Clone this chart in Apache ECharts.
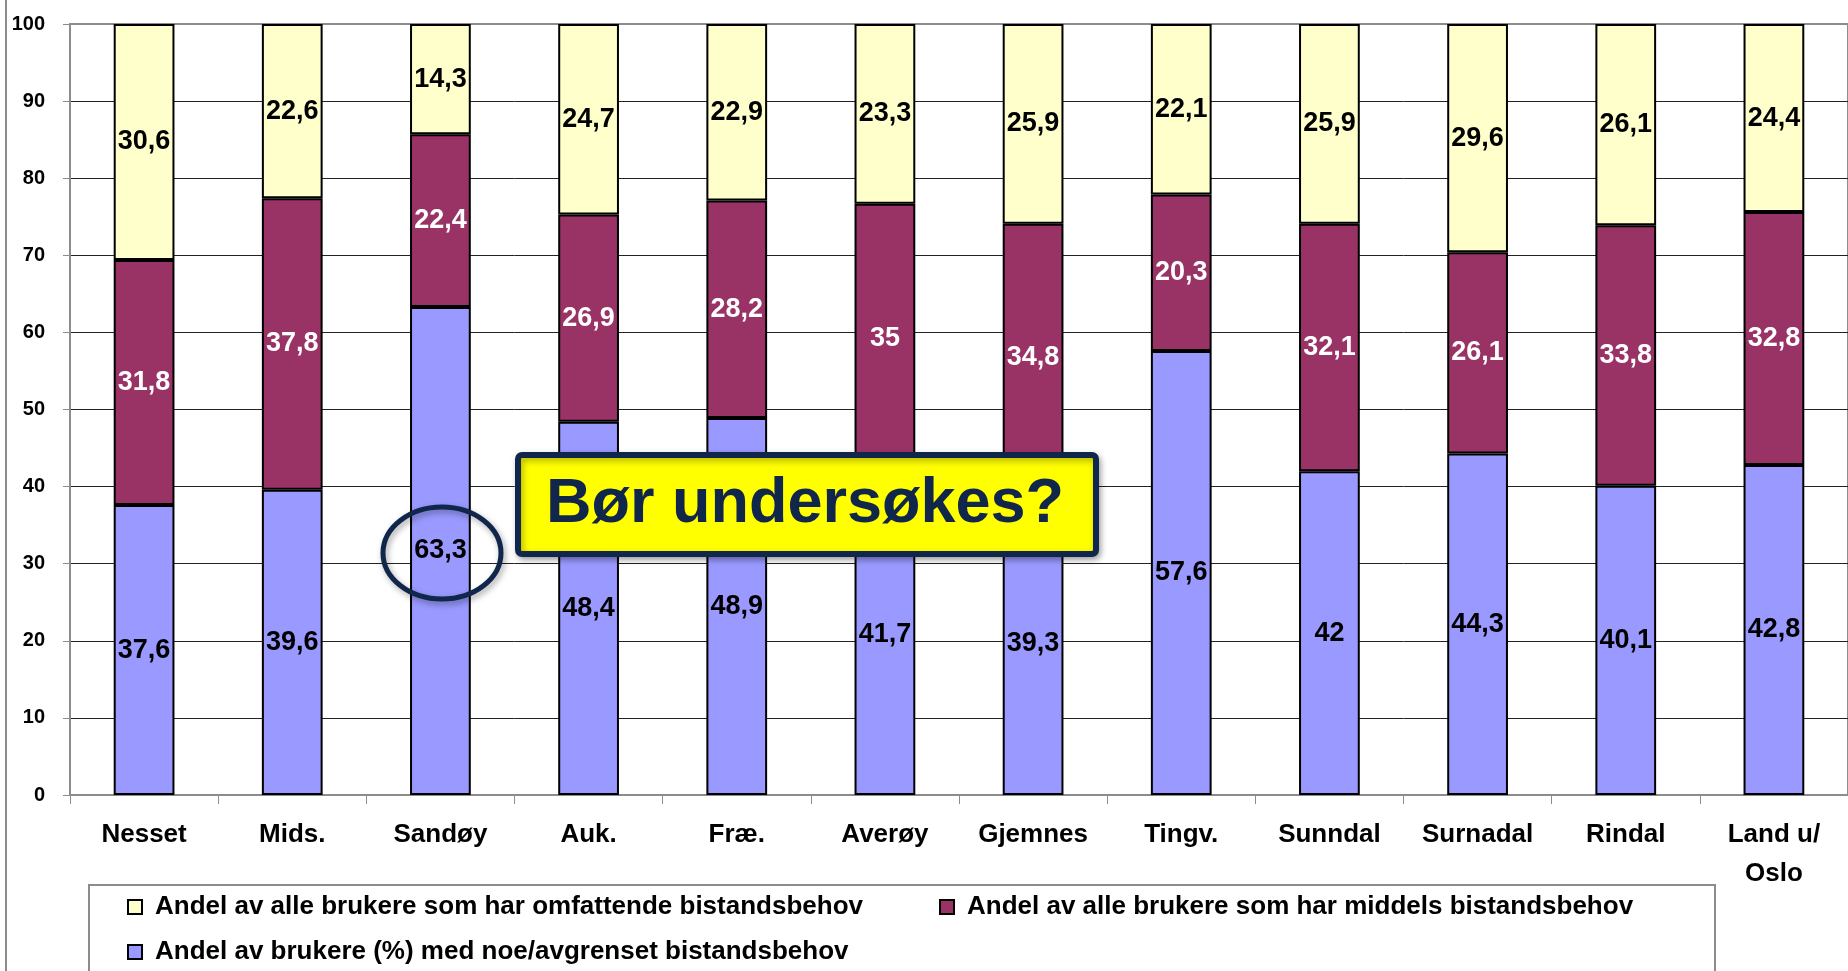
<!DOCTYPE html>
<html>
<head>
<meta charset="utf-8">
<script src="https://cdn.jsdelivr.net/npm/echarts@6/dist/echarts.min.js"></script>
<style>
  html, body { margin: 0; padding: 0; background: #fff; }
  #chart { width: 1848px; height: 971px; }
</style>
</head>
<body>
<div id="chart"></div>
<script>
// kommuner
const categories = ['Nesset', 'Mids.', 'Sandøy', 'Auk.', 'Fræ.', 'Averøy', 'Gjemnes', 'Tingv.', 'Sunndal', 'Surnadal', 'Rindal', 'Land u/\nOslo'];
// andel (%) per gruppe
const noe = [37.6, 39.6, 63.3, 48.4, 48.9, 41.7, 39.3, 57.6, 42, 44.3, 40.1, 42.8];
const middels = [31.8, 37.8, 22.4, 26.9, 28.2, 35, 34.8, 20.3, 32.1, 26.1, 33.8, 32.8];
const omfattende = [30.6, 22.6, 14.3, 24.7, 22.9, 23.3, 25.9, 22.1, 25.9, 29.6, 26.1, 24.4];

const nameNoe = 'Andel av brukere (%) med noe/avgrenset bistandsbehov';
const nameMiddels = 'Andel av alle brukere som har middels bistandsbehov';
const nameOmf = 'Andel av alle brukere som har omfattende bistandsbehov';

const FONT = '"Liberation Sans Narrow", "Arial Narrow", "Liberation Sans", Arial, sans-serif';
const navy = '#10264A';

const chart = echarts.init(document.getElementById('chart'));

function barLabel(color) {
  return {
    show: true,
    position: 'inside',
    color: color,
    fontFamily: FONT,
    fontWeight: 'bold',
    fontSize: 27,
    formatter: (p) => String(p.value).replace('.', ',')
  };
}

function legendItem(name, left, top) {
  return {
    data: [name],
    left: left,
    top: top,
    padding: 0,
    icon: 'rect',
    itemWidth: 14,
    itemHeight: 14,
    selectedMode: false,
    textStyle: {
      fontFamily: FONT,
      fontWeight: 'bold',
      fontSize: 26,
      color: '#000',
      padding: [0, 0, 0, 8]
    }
  };
}

const option = {
  animation: false,
  backgroundColor: '#fff',
  grid: {
    left: 70,
    top: 24,
    width: 1789,
    height: 771,
    show: true,
    borderColor: '#8c8c8c',
    borderWidth: 2
  },
  legend: [
    legendItem(nameOmf, 127, 894),
    legendItem(nameMiddels, 939, 894),
    legendItem(nameNoe, 127, 939)
  ],
  xAxis: {
    type: 'category',
    data: categories,
    axisLine: { lineStyle: { color: '#8c8c8c', width: 2 } },
    axisTick: { show: true, length: 9, lineStyle: { color: '#8c8c8c', width: 1 } },
    axisLabel: {
      margin: 20,
      color: '#000',
      fontFamily: FONT,
      fontWeight: 'bold',
      fontSize: 26,
      lineHeight: 39,
      interval: 0
    }
  },
  yAxis: {
    type: 'value',
    min: 0,
    max: 100,
    interval: 10,
    axisLine: { show: true, lineStyle: { color: '#8c8c8c', width: 2 } },
    axisTick: { show: true, length: 7, lineStyle: { color: '#8c8c8c' } },
    axisLabel: {
      margin: 25,
      color: '#000',
      fontFamily: FONT,
      fontWeight: 'bold',
      fontSize: 20
    },
    splitLine: {
      lineStyle: {
        color: ['#222', '#222', '#222', '#222', '#222', '#222', '#222', '#222', '#222', '#222', '#8c8c8c'],
        width: 1
      }
    }
  },
  series: [
    {
      name: nameNoe,
      type: 'bar',
      stack: 'tot',
      barWidth: '41%',
      data: noe,
      itemStyle: { color: '#9999FF', borderColor: '#000', borderWidth: 2 },
      label: barLabel('#000')
    },
    {
      name: nameMiddels,
      type: 'bar',
      stack: 'tot',
      data: middels,
      itemStyle: { color: '#993366', borderColor: '#000', borderWidth: 2 },
      label: barLabel('#fff')
    },
    {
      name: nameOmf,
      type: 'bar',
      stack: 'tot',
      data: omfattende,
      itemStyle: { color: '#FFFFCC', borderColor: '#000', borderWidth: 2 },
      label: barLabel('#000')
    }
  ],
  graphic: [
    // venstre ramme
    {
      type: 'line',
      z: 100,
      shape: { x1: 6, y1: 0, x2: 6, y2: 971 },
      style: { stroke: '#8c8c8c', lineWidth: 2 }
    },
    // ramme rundt forklaring
    {
      type: 'rect',
      z: 1,
      shape: { x: 89, y: 885, width: 1626, height: 120 },
      style: { fill: 'none', stroke: '#8c8c8c', lineWidth: 2 }
    },
    // ring rundt Sandøy
    {
      type: 'ellipse',
      z: 100,
      shape: { cx: 442, cy: 553, rx: 59, ry: 46 },
      style: {
        fill: 'none', stroke: navy, lineWidth: 5,
        shadowBlur: 6, shadowColor: 'rgba(0,0,0,0.35)', shadowOffsetX: 2, shadowOffsetY: 3
      }
    },
    // gul boks
    {
      type: 'rect',
      z: 100,
      shape: { x: 518, y: 455, width: 578, height: 99, r: 4 },
      style: {
        fill: '#FFFF00', stroke: navy, lineWidth: 6,
        shadowBlur: 6, shadowColor: 'rgba(0,0,0,0.3)', shadowOffsetX: 2, shadowOffsetY: 3
      }
    },
    {
      type: 'text',
      z: 101,
      x: 805,
      y: 505,
      style: {
        text: 'Bør undersøkes?',
        fill: navy,
        font: 'bold 63px "Liberation Sans", Arial, sans-serif',
        align: 'center',
        verticalAlign: 'middle'
      }
    }
  ]
};

chart.setOption(option);
</script>
</body>
</html>
